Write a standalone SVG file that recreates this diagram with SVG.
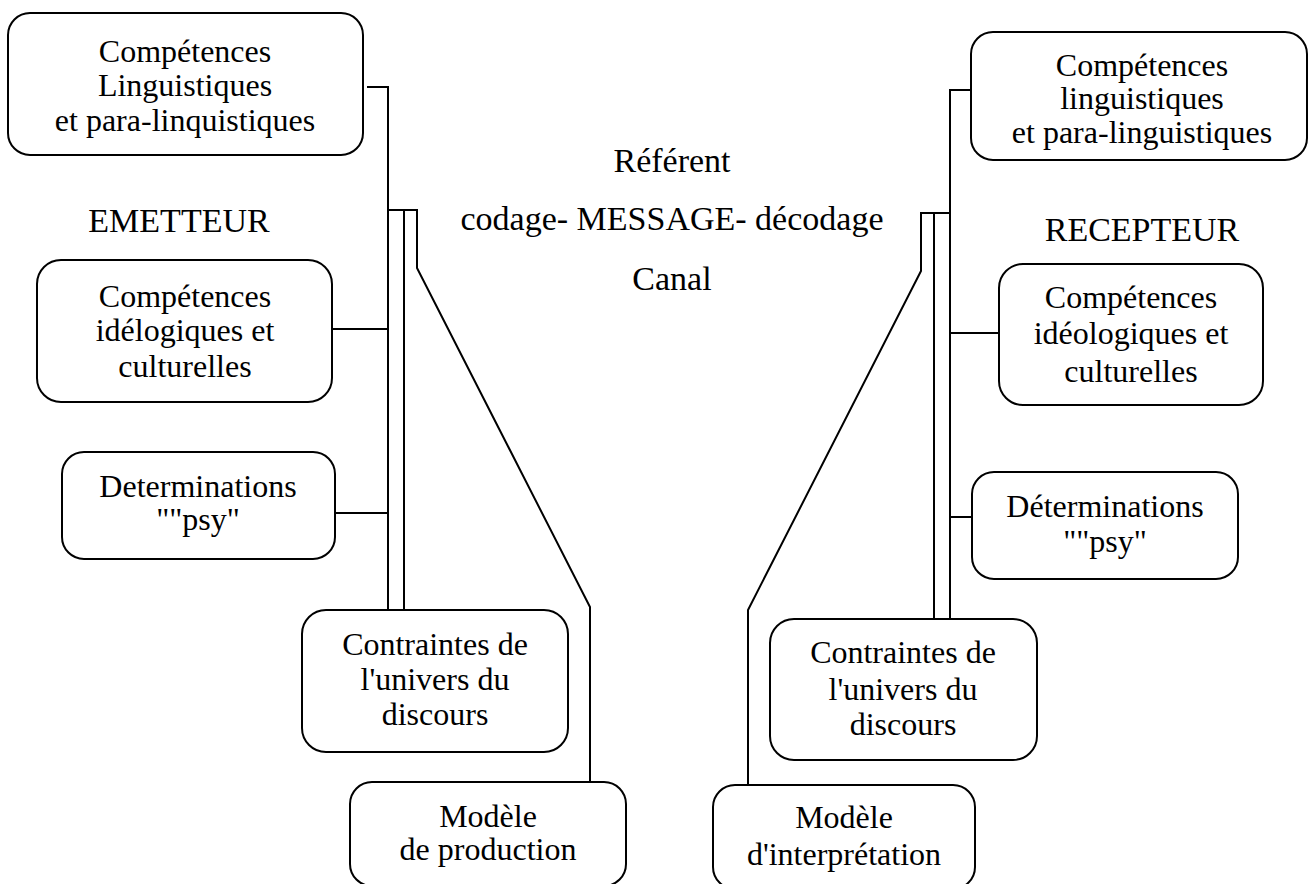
<svg xmlns="http://www.w3.org/2000/svg" width="1311" height="884" viewBox="0 0 1311 884">
<style>
.box{fill:#fff;stroke:#000;stroke-width:2}
.ln{fill:none;stroke:#000;stroke-width:2}
text{font-family:"Liberation Serif","Times New Roman",serif;fill:#000;text-anchor:middle}
.t{font-size:32px}
.c{font-size:34px}
</style>
<rect width="1311" height="884" fill="#fff"/>
<g id="connectors">
<polyline class="ln" points="367,87 388,87 388,615"/>
<polyline class="ln" points="388,210 417,210 417,268 590,607 590,782"/>
<line class="ln" x1="404" y1="210" x2="404" y2="612"/>
<line class="ln" x1="332" y1="329" x2="388" y2="329"/>
<line class="ln" x1="335" y1="513" x2="388" y2="513"/>
<polyline class="ln" points="971,90 950,90 950,619"/>
<polyline class="ln" points="950,213 921,213 921,271 748,610 748,786"/>
<line class="ln" x1="934" y1="213" x2="934" y2="619"/>
<line class="ln" x1="950" y1="333" x2="999" y2="333"/>
<line class="ln" x1="950" y1="517" x2="972" y2="517"/>
</g>
<g id="emetteur-ling">
<rect class="box" x="8" y="13" width="355" height="142" rx="22"/>
<text class="t" x="185" y="62">Compétences</text>
<text class="t" x="185" y="96">Linguistiques</text>
<text class="t" x="185" y="131">et para-linquistiques</text>
</g>
<g id="emetteur-label"><text class="c" x="179" y="232">EMETTEUR</text></g>
<g id="emetteur-ideo">
<rect class="box" x="37" y="260" width="295" height="142" rx="24"/>
<text class="t" x="185" y="307">Compétences</text>
<text class="t" x="185" y="341">idélogiques et</text>
<text class="t" x="185" y="377">culturelles</text>
</g>
<g id="emetteur-psy">
<rect class="box" x="62" y="452" width="273" height="107" rx="22"/>
<text class="t" x="198" y="497">Determinations</text>
<text class="t" x="198" y="530">""psy"</text>
</g>
<g id="emetteur-contraintes">
<rect class="box" x="302" y="610" width="266" height="142" rx="24"/>
<text class="t" x="435" y="655">Contraintes de</text>
<text class="t" x="435" y="690">l'univers du</text>
<text class="t" x="435" y="725">discours</text>
</g>
<g id="modele-production">
<rect class="box" x="350" y="782" width="276" height="104" rx="22"/>
<text class="t" x="488" y="827">Modèle</text>
<text class="t" x="488" y="860">de production</text>
</g>
<g id="message">
<text class="c" x="672" y="172">Référent</text>
<text class="c" x="672" y="230">codage- MESSAGE- décodage</text>
<text class="c" x="672" y="290">Canal</text>
</g>
<g id="recepteur-ling">
<rect class="box" x="971" y="32" width="336" height="128" rx="22"/>
<text class="t" x="1142" y="76">Compétences</text>
<text class="t" x="1142" y="109">linguistiques</text>
<text class="t" x="1142" y="143">et para-linguistiques</text>
</g>
<g id="recepteur-label"><text class="c" x="1142" y="241">RECEPTEUR</text></g>
<g id="recepteur-ideo">
<rect class="box" x="999" y="264" width="264" height="141" rx="24"/>
<text class="t" x="1131" y="308">Compétences</text>
<text class="t" x="1131" y="344">idéologiques et</text>
<text class="t" x="1131" y="382">culturelles</text>
</g>
<g id="recepteur-psy">
<rect class="box" x="972" y="472" width="266" height="107" rx="22"/>
<text class="t" x="1105" y="517">Déterminations</text>
<text class="t" x="1105" y="552">""psy"</text>
</g>
<g id="recepteur-contraintes">
<rect class="box" x="770" y="619" width="267" height="141" rx="24"/>
<text class="t" x="903" y="663">Contraintes de</text>
<text class="t" x="903" y="700">l'univers du</text>
<text class="t" x="903" y="735">discours</text>
</g>
<g id="modele-interpretation">
<rect class="box" x="713" y="785" width="262" height="104" rx="22"/>
<text class="t" x="844" y="828">Modèle</text>
<text class="t" x="844" y="865">d'interprétation</text>
</g>
</svg>
